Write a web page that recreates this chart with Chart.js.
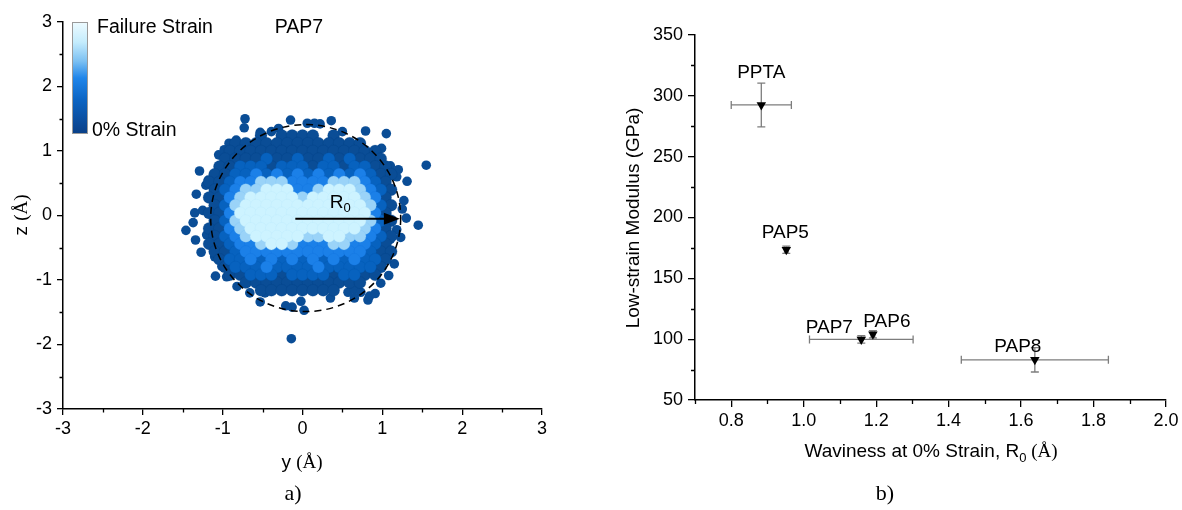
<!DOCTYPE html>
<html><head><meta charset="utf-8">
<script src="https://cdn.jsdelivr.net/npm/chart.js@4.4.1/dist/chart.umd.min.js"></script>
<style>
html,body{margin:0;padding:0;background:#fff;width:1182px;height:510px;overflow:hidden}
#a{position:absolute;left:0;top:0}
#b{position:absolute;left:600px;top:0}
</style></head><body>
<canvas id="a" width="560" height="510"></canvas>
<canvas id="b" width="582" height="510"></canvas>
<script>
// ================= Panel a) data (y, z in Å) =================
const tickValsA = [-3, -2, -1, 0, 1, 2, 3];
const minorValsA = [-2.5, -1.5, -0.5, 0.5, 1.5, 2.5];

// scattered individual dots outside the dense cloud [y, z]
const outerDots = [
  [-0.72,1.50],[-0.73,1.36],[-0.15,1.48],[0.06,1.43],[0.15,1.43],[0.22,1.42],[0.36,1.47],
  [0.79,1.31],[1.05,1.27],[1.55,0.78],[-1.29,0.69],[-1.46,-0.23],[1.45,-0.15],[1.30,-0.04],
  [1.31,0.53],[1.27,0.23],[1.08,-0.93],[0.82,-1.31],[0.84,-1.25],[0.02,-1.47],[-0.13,-1.42],
  [-0.21,-1.40],[-0.53,-1.34],[-0.14,-1.91],[-1.09,-0.94],[0.57,-1.19],[0.65,-1.15],[0.73,-1.19],
  [0.65,-1.28],[-0.66,-1.20],[-0.47,-1.20],[-1.34,-0.38],[-1.37,-0.11],[-1.35,0.04],[-1.18,0.55],
  [-1.21,0.47],[-1.05,0.94],[-0.92,1.12],[-0.83,1.17],[-0.53,1.29],[-0.39,1.30],[0.99,1.04],
  [1.10,0.77],[1.20,0.71],[1.18,0.60],[1.23,-0.34],[1.18,-0.22],[1.05,-0.64],[-1.27,-0.57],
  [-1.20,-0.30],[-1.10,-0.64],[-1.12,-0.43],[-1.01,-0.79],[-0.95,-0.95],[-1.10,0.14],[-1.04,0.29],
  [-1.25,0.08],[-1.33,0.33],[1.25,0.10],[1.10,-0.37],[0.91,-1.21],[-0.30,1.35],[0.50,1.30],
  [-0.98,1.02],[0.92,0.98],[-0.02,-1.33],[0.35,-1.28],[-0.82,-1.10],[0.98,-1.05],[1.15,-0.75]
];

// dense cloud, rows of [z, [y values]] for each colour level
const darkRows = [
  [1.24,[-0.52,-0.26,-0.13,0,0.13,0.39]],
  [1.12,[-0.84,-0.71,-0.58,-0.45,-0.32,-0.19,-0.06,0.07,0.2,0.33,0.46,0.59,0.72]],
  [1.00,[-0.91,-0.78,-0.65,-0.52,-0.39,-0.26,-0.13,0,0.13,0.26,0.39,0.52,0.65,0.78,0.91]],
  [0.88,[-0.97,-0.84,-0.71,-0.58,-0.32,-0.19,0.07,0.2,0.46,0.72,0.85,0.98]],
  [0.76,[-1.04,-0.91,-0.39,0.13,0.52,0.91,1.04]],
  [0.64,[-1.1,-0.97,0.98,1.11]],
  [0.52,[-1.17,-1.04,1.04]],
  [0.40,[-1.1,1.11]],
  [0.28,[-1.17,-1.04,1.04]],
  [0.16,[-1.1,1.11]],
  [0.04,[-1.17,-1.04,1.04]],
  [-0.08,[-1.1,1.11]],
  [-0.20,[-1.17,-1.04,1.04]],
  [-0.32,[-1.1,1.11]],
  [-0.44,[-1.17,-1.04,1.04]],
  [-0.56,[-1.1,-0.97,0.98,1.11]],
  [-0.68,[-1.04,1.04]],
  [-0.80,[-0.97,0.98]],
  [-0.92,[-0.91,-0.78,-0.26,0.39,0.78,0.91]],
  [-1.04,[-0.71,-0.58,-0.45,-0.32,-0.19,-0.06,0.07,0.2,0.33,0.46,0.59,0.72]],
  [-1.16,[-0.52,-0.39,-0.26,-0.13,0,0.13,0.26,0.39]]
];
const mediumRows = [
  [0.88,[-0.45,-0.06,0.33,0.59]],
  [0.76,[-0.78,-0.65,-0.52,-0.26,-0.13,0,0.26,0.39,0.65,0.78]],
  [0.64,[-0.84,-0.71,-0.45,-0.19,0.07,0.33,0.59,0.85]],
  [0.52,[-0.91,0.91]],
  [0.40,[-0.97,0.98]],
  [0.16,[-0.97,0.98]],
  [-0.08,[-0.97,0.98]],
  [-0.32,[-0.97,0.98]],
  [-0.44,[-0.91,0.91]],
  [-0.56,[-0.84,0.85]],
  [-0.68,[-0.91,-0.78,-0.52,-0.26,0,0.26,0.52,0.78,0.91]],
  [-0.80,[-0.84,-0.71,-0.58,-0.32,-0.19,-0.06,0.07,0.33,0.46,0.59,0.72,0.85]],
  [-0.92,[-0.65,-0.52,-0.39,-0.13,0,0.13,0.26,0.52,0.65]]
];
const brightRows = [
  [0.64,[-0.58,-0.32,-0.06,0.2,0.46,0.72]],
  [0.52,[-0.78,-0.65,-0.13,0,0.13,0.26,0.78]],
  [0.40,[-0.84,-0.06,0.07,0.85]],
  [0.28,[-0.91,0.91]],
  [0.04,[-0.91,0.91]],
  [-0.20,[-0.91,0.91]],
  [-0.32,[-0.84,0.85]],
  [-0.44,[-0.78,-0.65,0,0.13,0.26,0.65,0.78]],
  [-0.56,[-0.71,-0.58,-0.45,-0.32,-0.19,-0.06,0.07,0.2,0.33,0.46,0.59,0.72]],
  [-0.68,[-0.65,-0.39,-0.13,0.13,0.39,0.65]],
  [-0.80,[-0.45,0.2]]
];
const lightEdgeRows = [
  [0.52,[-0.52,-0.39,-0.26,0.39,0.52,0.65]],
  [0.40,[-0.71,-0.58,0.2,0.72]],
  [0.28,[-0.78,0,0.78]],
  [0.16,[-0.84,0.85]],
  [-0.08,[-0.84,0.85]],
  [-0.20,[-0.78,0.78]],
  [-0.32,[-0.71,0.07,0.2,0.59,0.72]],
  [-0.44,[-0.52,-0.13,0.39,0.52]]
];
const coreRows = [
  [0.40,[-0.45,-0.32,-0.19,0.33,0.46,0.59]],
  [0.28,[-0.65,-0.52,-0.39,-0.26,-0.13,0.13,0.26,0.39,0.52,0.65]],
  [0.16,[-0.71,-0.58,-0.45,-0.32,-0.19,-0.06,0.07,0.2,0.33,0.46,0.59,0.72]],
  [0.04,[-0.78,-0.65,-0.52,-0.39,-0.26,-0.13,0,0.13,0.26,0.39,0.52,0.65,0.78]],
  [-0.08,[-0.71,-0.58,-0.45,-0.32,-0.19,-0.06,0.07,0.2,0.33,0.46,0.59,0.72]],
  [-0.20,[-0.65,-0.52,-0.39,-0.26,-0.13,0,0.13,0.26,0.39,0.52,0.65]],
  [-0.32,[-0.58,-0.45,-0.32,-0.19,-0.06,0.33,0.46]],
  [-0.44,[-0.39,-0.26]]
];
// R0 circle and arrow (Å)
const r0Circle = {cy: 0.04, cz: -0.04, ry: 1.19, rz: 1.45};
const r0Arrow = {y0: -0.09, y1: 1.22, z: -0.05};

// ================= Panel b) data =================
const samples     = ['PPTA', 'PAP5', 'PAP7', 'PAP6', 'PAP8'];
const waviness    = [0.883, 0.952, 1.159, 1.191, 1.638];
const wavinessErr = [0.083, 0.005, 0.143, 0.005, 0.203];
const modulus     = [292.5, 173.5, 99.8, 104.0, 83.0];
const modulusErr  = [18, 3, 3, 3, 10];
const tickValsBx  = [0.8, 1.0, 1.2, 1.4, 1.6, 1.8, 2.0];
const minorValsBx = [0.7, 0.9, 1.1, 1.3, 1.5, 1.7, 1.9];
const tickValsBy  = [50, 100, 150, 200, 250, 300, 350];
const minorValsBy = [75, 125, 175, 225, 275, 325];

// ================= helpers =================
const SANS = "'Liberation Sans', Arial, sans-serif";
const SERIF = "'Liberation Serif', 'DejaVu Serif', serif";
function rowsToPoints(rows){
  const pts = [];
  rows.forEach(([z, ys]) => ys.forEach(y => pts.push({x: y, y: z})));
  return pts;
}
function drawRuns(ctx, runs, cx, cy, rot){
  ctx.save();
  ctx.translate(cx, cy);
  if (rot) ctx.rotate(rot);
  let w = 0;
  runs.forEach(r => { ctx.font = r.font; w += ctx.measureText(r.t).width; });
  let x = -w / 2;
  ctx.textBaseline = 'middle';
  ctx.textAlign = 'left';
  ctx.fillStyle = '#000';
  runs.forEach(r => { ctx.font = r.font; ctx.fillText(r.t, x, r.dy || 0); x += ctx.measureText(r.t).width; });
  ctx.restore();
}
function minorTicks(ctx, chart, xs, ys, len){
  const {left, bottom} = chart.chartArea;
  const sx = chart.scales.x, sy = chart.scales.y;
  ctx.save();
  ctx.strokeStyle = '#000'; ctx.lineWidth = 1.3;
  ctx.beginPath();
  xs.forEach(v => { const p = Math.round(sx.getPixelForValue(v)) + 0.5; ctx.moveTo(p, bottom); ctx.lineTo(p, bottom + len); });
  ys.forEach(v => { const p = Math.round(sy.getPixelForValue(v)) + 0.5; ctx.moveTo(left, p); ctx.lineTo(left - len, p); });
  ctx.stroke();
  ctx.restore();
}
function axisCfg(min, max, vals, fmt, fixedSize, isX, tickLen, pad){
  return {
    type: 'linear', min, max,
    afterBuildTicks(s){ s.ticks = vals.map(v => ({value: v})); },
    afterFit(s){ if (isX) s.height = fixedSize; else s.width = fixedSize; },
    ticks: {color: '#000', font: {family: SANS, size: 18}, padding: pad, callback: fmt, maxRotation: 0, autoSkip: false},
    grid: {display: true, drawOnChartArea: false, drawTicks: true, tickLength: tickLen, color: '#000', lineWidth: 1.3},
    border: {display: true, color: '#000', width: 1.5}
  };
}

// ================= Panel a) =================
function layer(rows, color, border, r, order){
  return {data: rowsToPoints(rows), backgroundColor: color, borderColor: border, borderWidth: 0.5,
          pointRadius: r, pointHoverRadius: r, order};
}
const panelAPlugin = {
  id: 'panelA',
  afterDatasetsDraw(chart){
    const ctx = chart.ctx, sx = chart.scales.x, sy = chart.scales.y;
    // dashed circle
    const cx = sx.getPixelForValue(r0Circle.cy), cy = sy.getPixelForValue(r0Circle.cz);
    const rx = sx.getPixelForValue(r0Circle.cy + r0Circle.ry) - cx;
    const ry = cy - sy.getPixelForValue(r0Circle.cz + r0Circle.rz);
    ctx.save();
    ctx.strokeStyle = '#000'; ctx.lineWidth = 1.5; ctx.setLineDash([7, 5]);
    ctx.beginPath(); ctx.ellipse(cx, cy, rx, ry, 0, 0, Math.PI * 2); ctx.stroke();
    ctx.setLineDash([]);
    // arrow
    const ax0 = sx.getPixelForValue(r0Arrow.y0), ax1 = sx.getPixelForValue(r0Arrow.y1), ay = sy.getPixelForValue(r0Arrow.z);
    ctx.lineWidth = 2;
    ctx.beginPath(); ctx.moveTo(ax0, ay); ctx.lineTo(ax1 - 12, ay); ctx.stroke();
    ctx.fillStyle = '#000';
    ctx.beginPath(); ctx.moveTo(ax1, ay); ctx.lineTo(ax1 - 16, ay - 6); ctx.lineTo(ax1 - 16, ay + 6); ctx.closePath(); ctx.fill();
    ctx.restore();
    drawRuns(ctx, [{t: 'R', font: `19px ${SANS}`}, {t: '0', font: `13px ${SANS}`, dy: 6}], ax0 + 45, ay - 16);
  },
  afterDraw(chart){
    const ctx = chart.ctx;
    minorTicks(ctx, chart, minorValsA, minorValsA, 3.5);
    // colour bar legend
    const g = ctx.createLinearGradient(0, 22, 0, 134);
    g.addColorStop(0, '#eefbff'); g.addColorStop(0.18, '#c4ecfd'); g.addColorStop(0.35, '#7cc0f2');
    g.addColorStop(0.5, '#1f85ea'); g.addColorStop(0.7, '#0b63c2'); g.addColorStop(1, '#0a3f86');
    ctx.save();
    ctx.fillStyle = g; ctx.fillRect(72, 22, 16, 112);
    ctx.strokeStyle = '#9a9a9a'; ctx.lineWidth = 1; ctx.strokeRect(72.5, 22.5, 15, 111);
    ctx.fillStyle = '#000'; ctx.textBaseline = 'middle'; ctx.textAlign = 'left';
    ctx.font = `19.5px ${SANS}`;
    ctx.fillText('Failure Strain', 97, 28);
    ctx.fillText('0% Strain', 92, 131);
    ctx.textAlign = 'center';
    ctx.fillText('PAP7', 299, 28);
    ctx.restore();
    drawRuns(ctx, [{t: 'z ', font: `19px ${SANS}`}, {t: '(Å)', font: `19px ${SERIF}`}], 22, 215, -Math.PI / 2);
    drawRuns(ctx, [{t: 'y ', font: `19px ${SANS}`}, {t: '(Å)', font: `19px ${SERIF}`}], 302, 463);
    drawRuns(ctx, [{t: 'a)', font: `22px ${SERIF}`}], 293, 494);
  }
};
new Chart(document.getElementById('a'), {
  type: 'scatter',
  data: {datasets: [
    layer(coreRows, '#cdf3ff', 'rgba(185,232,252,0.6)', 6, 0),
    layer(lightEdgeRows, '#9ad3f8', 'rgba(120,190,242,0.5)', 6, 1),
    layer(brightRows, '#1b80e8', 'rgba(15,105,215,0.4)', 6, 2),
    layer(mediumRows, '#0762bf', 'rgba(0,80,165,0.4)', 6, 3),
    layer(darkRows, '#0a4d96', 'rgba(0,60,125,0.4)', 6, 4),
    {data: outerDots.map(([y, z]) => ({x: y, y: z})), backgroundColor: '#0a4d96', borderWidth: 0,
     pointRadius: 4.8, pointHoverRadius: 4.8, order: 5}
  ]},
  options: {
    responsive: false, animation: false, devicePixelRatio: 1,
    layout: {padding: {top: 22, right: 18, left: 0, bottom: 0}},
    plugins: {legend: {display: false}, tooltip: {enabled: false}},
    events: [],
    scales: {
      x: axisCfg(-3, 3, tickValsA, v => String(v), 101, true, 6, 3),
      y: axisCfg(-3, 3, tickValsA, v => String(v), 63, false, 6, 5)
    }
  },
  plugins: [panelAPlugin]
});

// ================= Panel b) =================
const labelOffsets = {PPTA: [0, -32], PAP5: [-1, -17], PAP7: [-32, -12], PAP6: [14, -13], PAP8: [-17, -13]};
const panelBPlugin = {
  id: 'panelB',
  beforeDatasetsDraw(chart){
    const ctx = chart.ctx, sx = chart.scales.x, sy = chart.scales.y;
    ctx.save();
    ctx.strokeStyle = '#7d7d7d'; ctx.lineWidth = 1.3;
    ctx.beginPath();
    samples.forEach((s, i) => {
      const px = sx.getPixelForValue(waviness[i]), py = sy.getPixelForValue(modulus[i]);
      const xl = sx.getPixelForValue(waviness[i] - wavinessErr[i]), xr = sx.getPixelForValue(waviness[i] + wavinessErr[i]);
      const yt = sy.getPixelForValue(modulus[i] + modulusErr[i]), yb = sy.getPixelForValue(modulus[i] - modulusErr[i]);
      ctx.moveTo(xl, py); ctx.lineTo(xr, py);
      ctx.moveTo(xl, py - 4); ctx.lineTo(xl, py + 4);
      ctx.moveTo(xr, py - 4); ctx.lineTo(xr, py + 4);
      ctx.moveTo(px, yt); ctx.lineTo(px, yb);
      ctx.moveTo(px - 4, yt); ctx.lineTo(px + 4, yt);
      ctx.moveTo(px - 4, yb); ctx.lineTo(px + 4, yb);
    });
    ctx.stroke();
    ctx.restore();
  },
  afterDatasetsDraw(chart){
    const ctx = chart.ctx, sx = chart.scales.x, sy = chart.scales.y;
    ctx.save();
    ctx.fillStyle = '#000'; ctx.font = `19px ${SANS}`; ctx.textAlign = 'center'; ctx.textBaseline = 'middle';
    samples.forEach((s, i) => {
      const o = labelOffsets[s];
      ctx.fillText(s, sx.getPixelForValue(waviness[i]) + o[0], sy.getPixelForValue(modulus[i]) + o[1]);
    });
    ctx.restore();
  },
  afterDraw(chart){
    const ctx = chart.ctx;
    minorTicks(ctx, chart, minorValsBx, minorValsBy, 4);
    drawRuns(ctx, [{t: 'Low-strain Modulus (GPa)', font: `19px ${SANS}`}], 34, 218, -Math.PI / 2);
    drawRuns(ctx, [{t: 'Waviness at 0% Strain, R', font: `19px ${SANS}`}, {t: '0', font: `13px ${SANS}`, dy: 6},
                   {t: ' (Å)', font: `19px ${SERIF}`}], 331, 452);
    drawRuns(ctx, [{t: 'b)', font: `22px ${SERIF}`}], 285, 494);
  }
};
new Chart(document.getElementById('b'), {
  type: 'scatter',
  data: {datasets: [{
    data: waviness.map((w, i) => ({x: w, y: modulus[i]})),
    pointStyle: 'triangle', rotation: 180, pointRadius: 5.5, pointHoverRadius: 5.5,
    backgroundColor: '#000', borderColor: '#000', borderWidth: 0
  }]},
  options: {
    responsive: false, animation: false, devicePixelRatio: 1,
    layout: {padding: {top: 35, right: 16, left: 0, bottom: 0}},
    plugins: {legend: {display: false}, tooltip: {enabled: false}},
    events: [],
    scales: {
      x: axisCfg(0.7, 2.0, tickValsBx, v => v.toFixed(1), 110, true, 7, 3),
      y: axisCfg(50, 350, tickValsBy, v => String(v), 95, false, 7, 5)
    }
  },
  plugins: [panelBPlugin]
});
</script>
</body></html>
